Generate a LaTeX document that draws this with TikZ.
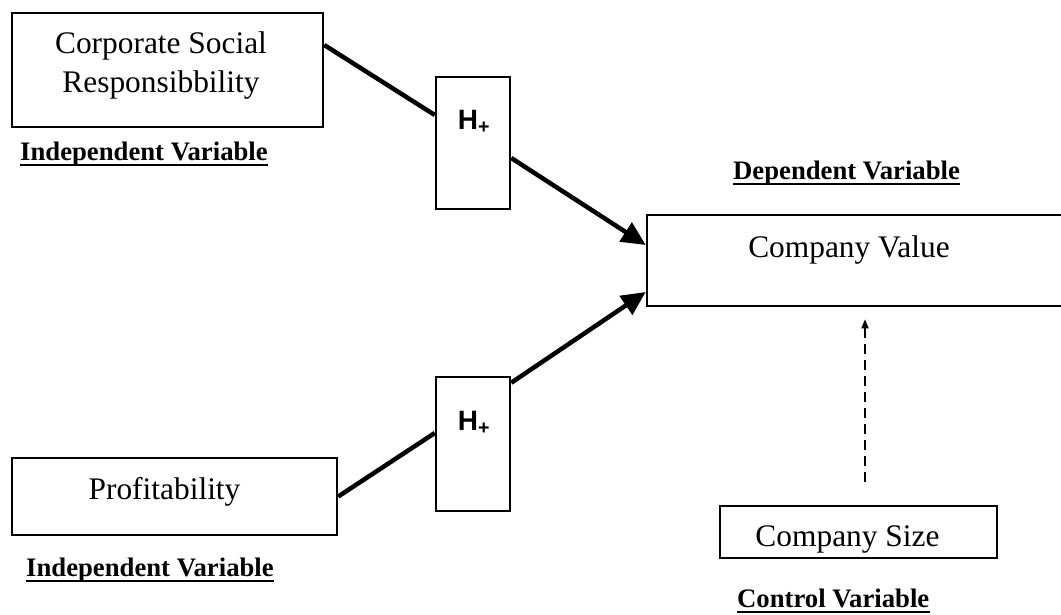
\documentclass[tikz,border=0pt]{standalone}
\usepackage{fontspec}
\setmainfont{Liberation Serif}
\newfontfamily\hfont{Liberation Sans}
\usetikzlibrary{arrows.meta, positioning}

\tikzset{
  varbox/.style={draw, line width=2.5pt, rectangle, inner sep=0pt},
  boxtext/.style={align=center, inner sep=0pt, font=\fontsize{31.4}{39}\selectfont},
  hbox/.style={draw, line width=2.5pt, rectangle, inner sep=0pt, minimum width=74pt},
  hlabel/.style={font=\hfont\bfseries\fontsize{28}{30}\selectfont, inner sep=0pt},
  varlabel/.style={font=\bfseries\fontsize{26.7}{30}\selectfont, inner sep=0pt, anchor=base west},
  uline/.style={line width=2.8pt},
  link/.style={line width=4.5pt},
  effect/.style={line width=4.5pt, -{Triangle[length=24pt,width=22pt]}},
  ctrl/.style={line width=1.8pt, dash pattern=on 10pt off 6pt,
    -{Triangle[length=9pt,width=7pt]}, shorten <=23pt, shorten >=12pt}
}

\begin{document}
\begin{tikzpicture}[x=1pt, y=-1pt]
\useasboundingbox (0,0) rectangle (1061,614);

% variables
\node[varbox, minimum width=311pt, minimum height=114pt] (csr) at (167.5,70) {};
\node[boxtext] (csrtext) at (161,65.7) {Corporate Social\\Responsibbility};
\node[varbox, minimum width=325pt, minimum height=77pt] (prof) at (174.5,496.5) {};
\node[boxtext] (proftext) at (164.5,491.5) {Profitability};
\node[varbox, minimum width=436pt, minimum height=91pt] (cv) at (865,260.5) {};
\node[boxtext] (cvtext) at (849,250) {Company Value};
\node[varbox, minimum width=277pt, minimum height=52pt] (cs) at (858.5,532) {};
\node[boxtext] (cstext) at (847.5,539.5) {Company Size};

% hypotheses
\node[hbox, minimum height=132pt] (h1) at (473,143) {};
\node[hlabel] (h1text) at (474,121.5) {H\textsubscript{+}};
\node[hbox, minimum height=134pt] (h2) at (473,444) {};
\node[hlabel] (h2text) at (474,422.5) {H\textsubscript{+}};

% labels
\node[varlabel] (iv1) at (20,160) {Independent Variable};
\node[varlabel] (iv2) at (26,576) {Independent Variable};
\node[varlabel] (dv) at (733,179) {Dependent Variable};
\node[varlabel] (ctv) at (737,607) {Control Variable};
\draw[uline] ([yshift=-5]iv1.base west) -- ([yshift=-5]iv1.base east);
\draw[uline] ([yshift=-5]iv2.base west) -- ([yshift=-5]iv2.base east);
\draw[uline] ([yshift=-5]dv.base west) -- ([yshift=-5]dv.base east);
\draw[uline] ([yshift=-5]ctv.base west) -- ([yshift=-5]ctv.base east);

% connectors
\draw[link] ([yshift=25]csr.east) -- ([yshift=28]h1.west);
\draw[effect] ([yshift=-15]h1.east) -- ([yshift=15.5]cv.west);
\draw[link] (prof.east) -- ([yshift=11]h2.west);
\draw[effect] ([yshift=-7]h2.north east) -- ([yshift=-31.5]cv.west);
\draw[ctrl] (cs.north -| cv.south) -- (cv.south);
\end{tikzpicture}
\end{document}
